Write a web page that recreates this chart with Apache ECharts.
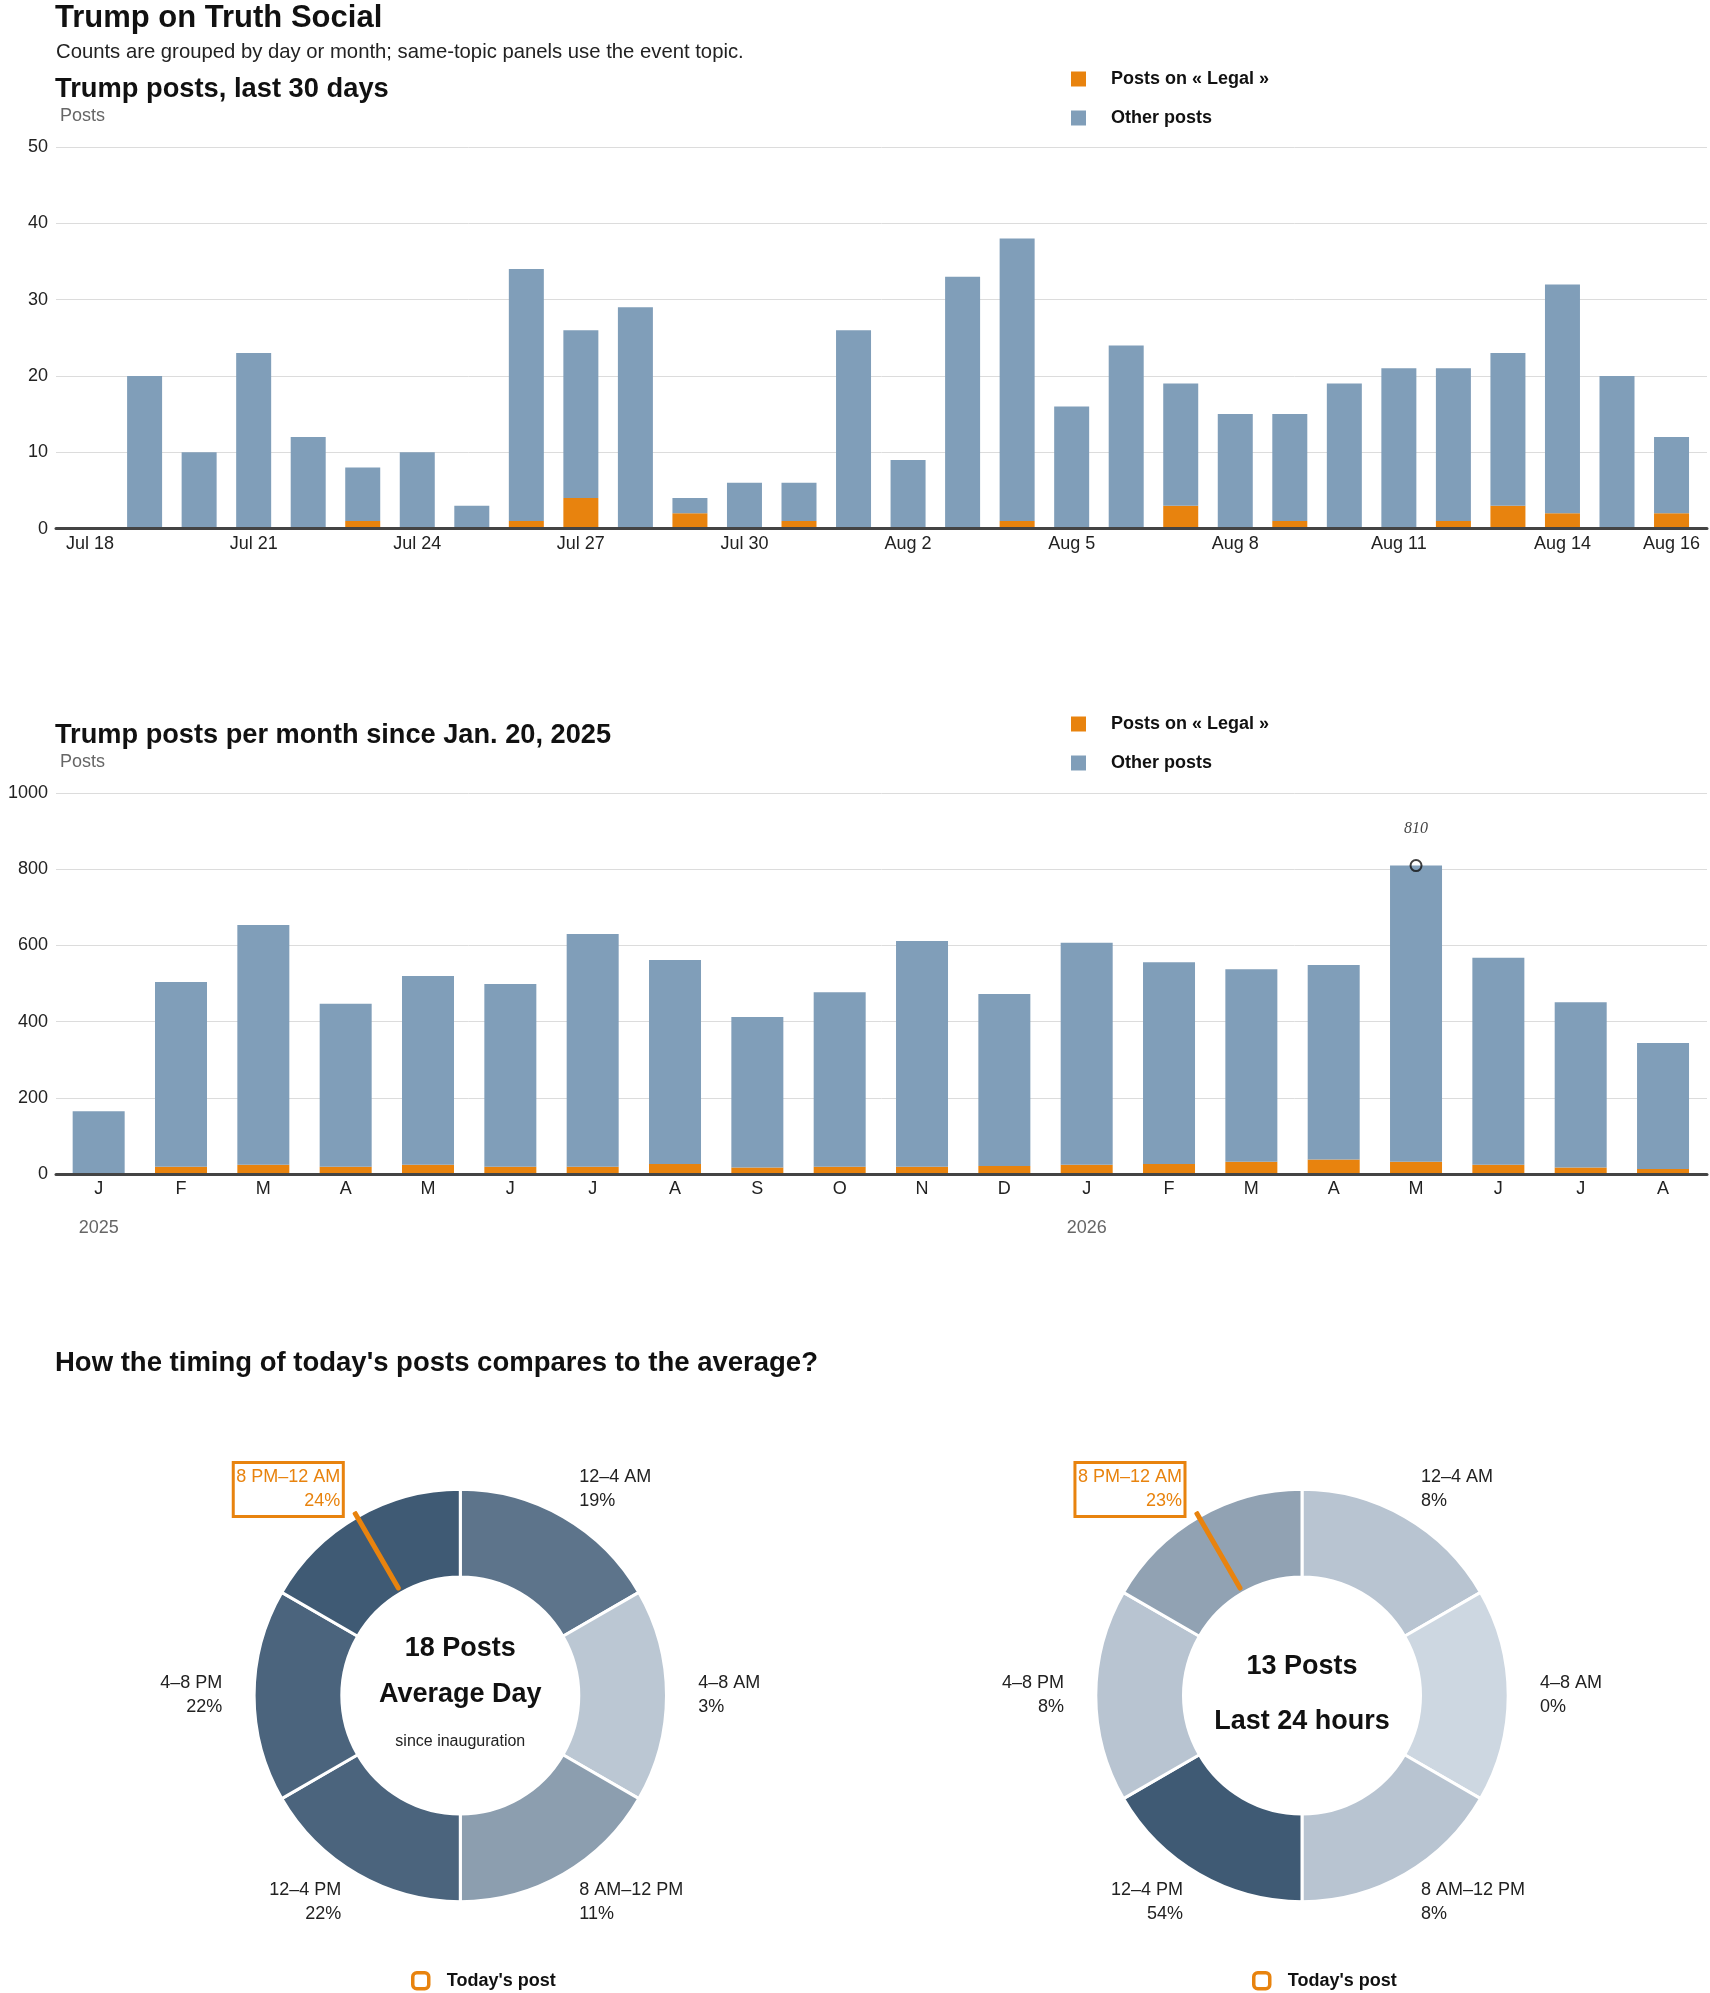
<!DOCTYPE html>
<html>
<head>
<meta charset="utf-8">
<script src="https://cdn.jsdelivr.net/npm/echarts@6/dist/echarts.min.js"></script>
<style>html,body{margin:0;padding:0;background:#fff}#c{width:1710px;height:1993px}</style>
</head>
<body>
<div id="c"></div>
<script>
// ---------- DATA ----------
const dayLabels = ['Jul 18','Jul 19','Jul 20','Jul 21','Jul 22','Jul 23','Jul 24','Jul 25','Jul 26','Jul 27','Jul 28','Jul 29','Jul 30','Jul 31',
  'Aug 1','Aug 2','Aug 3','Aug 4','Aug 5','Aug 6','Aug 7','Aug 8','Aug 9','Aug 10','Aug 11','Aug 12','Aug 13','Aug 14','Aug 15','Aug 16'];
const dayTicks = ['Jul 18','Jul 21','Jul 24','Jul 27','Jul 30','Aug 2','Aug 5','Aug 8','Aug 11','Aug 14','Aug 16'];
const dayTotals = [0,20,10,23,12,8,10,3,34,26,29,4,6,6,26,9,33,38,16,24,19,15,15,19,21,21,23,32,20,12];
const dayLegal  = [0,0,0,0,0,1,0,0,1,4,0,2,0,1,0,0,0,1,0,0,3,0,1,0,0,1,3,2,0,2];

const months = ['2025-01','2025-02','2025-03','2025-04','2025-05','2025-06','2025-07','2025-08','2025-09','2025-10','2025-11','2025-12',
  '2026-01','2026-02','2026-03','2026-04','2026-05','2026-06','2026-07','2026-08'];
const monthLabels = ['J','F','M','A','M','J','J','A','S','O','N','D','J','F','M','A','M','J','J','A'];
const monthTotals = [165,504,654,447,520,499,630,562,412,477,612,473,607,556,538,549,810,568,451,344];
const monthLegal  = [0,19,24,19,24,19,19,26,17,19,19,21,24,26,32,38,32,24,17,13];

const slots = ['12–4 AM','4–8 AM','8 AM–12 PM','12–4 PM','4–8 PM','8 PM–12 AM'];
const avgShare = [19,3,11,22,22,24];
const todayShare = [8,0,8,54,8,23];
const avgPosts = 18;
const todayPosts = 13;
const todayPostHour = 22;

// ---------- STYLE ----------
const FONT = '"Liberation Sans", Arial, sans-serif';
const ORANGE = '#e8830e', BLUE = '#809eb9', AXIS = '#444', GRIDC = '#dcdcdc';
const LIGHT = '#cdd7e1', DARK = '#3f5a74';
const R0 = 118.5, R1 = 206.2, LABEL_R = 238;
const C1 = [460.3, 1695.5], C2 = [1302, 1695.5];
const DY = 2.5; // optical offset for middle-aligned text

function hex(c){ return [1,3,5].map(i => parseInt(c.substr(i,2),16)); }
function mix(a,b,t){ const pa=hex(a), pb=hex(b); return 'rgb(' + pa.map((v,i)=>Math.round(v+(pb[i]-v)*t)).join(',') + ')'; }
function txt(text, x, y, size, weight, color, align){
  return {type:'text', x:x, y:y + DY, silent:true, z:10,
    style:{text:text, fontSize:size, fontWeight:weight, fontFamily:FONT, fill:color, align:align||'left', verticalAlign:'middle'}};
}
const hiSlot = Math.floor(todayPostHour / 4);
const needleAngle = todayPostHour / 24 * 360;

function donut(name, center, shares){
  const max = Math.max.apply(null, shares);
  return {
    type:'pie', name:name, center:center, radius:[R0, R1], startAngle:90, clockwise:true,
    avoidLabelOverlap:false, silent:true, emphasis:{disabled:true}, animation:false,
    itemStyle:{borderColor:'#fff', borderWidth:3},
    label:{show:true, position:'outside', distanceToLabelLine:0, fontFamily:FONT, fontSize:18, color:'#222', lineHeight:24,
      formatter: p => p.name + '\n' + p.data.pct + '%'},
    labelLine:{show:false, length:LABEL_R - R1, length2:0},
    data: slots.map((s,i) => {
      const d = {name:s, value:1, pct:shares[i], itemStyle:{color: mix(LIGHT, DARK, shares[i]/max)}};
      if (i === hiSlot) d.label = {color:ORANGE, borderColor:ORANGE, borderWidth:3, padding:[3,3], offset:[2,0]};
      return d;
    })
  };
}
function needle(polarIndex){
  return {type:'line', name:"Today's post", coordinateSystem:'polar', polarIndex:polarIndex,
    data:[[R0 + 5.5, needleAngle],[R1 + 4, needleAngle]], symbol:'none', silent:true, clip:false, z:6,
    lineStyle:{color:ORANGE, width:5, cap:'round'}, itemStyle:{color:ORANGE}};
}
const peakIdx = monthTotals.indexOf(Math.max.apply(null, monthTotals));

const frameX = gi => ({gridIndex:gi, type:'value', min:0, max:1, z:5,
  axisLine:{show:true, lineStyle:{color:AXIS, width:3}}, axisTick:{show:false}, axisLabel:{show:false}, splitLine:{show:false}});
const frameY = (gi, max, interval) => ({gridIndex:gi, type:'value', min:0, max:max, interval:interval,
  name:'Posts', nameLocation:'end', nameGap:22,
  nameTextStyle:{color:'#666', fontSize:18, fontFamily:FONT, align:'left', padding:[0,0,0,4]},
  axisLine:{show:false}, axisTick:{show:false},
  axisLabel:{fontSize:18, color:'#222', fontFamily:FONT, margin:8, formatter:v => String(v)},
  splitLine:{lineStyle:{color:GRIDC, width:1}}});
const hiddenY = (gi, max) => ({gridIndex:gi, type:'value', min:0, max:max, show:false});

const legendText = {fontSize:18, fontWeight:'bold', color:'#111', fontFamily:FONT, lineHeight:15, padding:[0,0,6,20]};
const barLegend = top => ({data:['Posts on « Legal »','Other posts'], left:1071, top:top, orient:'vertical', padding:0,
  itemWidth:15, itemHeight:15, itemGap:18, icon:'rect', selectedMode:false, textStyle:legendText});
const todayLegend = left => ({data:[{name:"Today's post", icon:'roundRect', itemStyle:{color:'#fff', borderColor:ORANGE, borderWidth:3.5}}],
  left:left, top:1971, padding:0, itemWidth:16, itemHeight:16, selectedMode:false,
  textStyle:{fontSize:18, fontWeight:'bold', color:'#111', fontFamily:FONT, lineHeight:16, padding:[0,0,2,13]}});

const option = {
  animation:false,
  backgroundColor:'#fff',
  textStyle:{fontFamily:FONT},
  grid:[
    {left:56, right:3, top:147, height:381.6},
    {left:62.8, right:11.2, top:147, height:381.6},
    {left:56, right:3, top:793.2, height:380.8},
    {left:57.5, right:5.8, top:793.2, height:380.8}
  ],
  xAxis:[
    frameX(0),
    {gridIndex:1, type:'category', data:dayLabels, axisLine:{show:false}, axisTick:{show:false},
      axisLabel:{interval:(i, v) => dayTicks.indexOf(v) >= 0, fontSize:18, color:'#222', fontFamily:FONT, margin:5, lineHeight:20}},
    frameX(2),
    {gridIndex:3, type:'category', data:months, axisLine:{show:false}, axisTick:{show:false},
      axisLabel:{interval:0, margin:5, fontSize:18, color:'#222', fontFamily:FONT,
        formatter:(v, i) => '{m|' + monthLabels[i] + '}' + (v.slice(5) === '01' ? '\n{y|' + v.slice(0,4) + '}' : ''),
        rich:{m:{fontSize:18, color:'#222', fontFamily:FONT, lineHeight:20}, y:{fontSize:18, color:'#666', fontFamily:FONT, lineHeight:58}}}}
  ],
  yAxis:[ frameY(0, 50, 10), hiddenY(1, 50), frameY(2, 1000, 200), hiddenY(3, 1000) ],
  polar:[ {center:C1, radius:R1 + 6}, {center:C2, radius:R1 + 6} ],
  angleAxis:[
    {polarIndex:0, type:'value', min:0, max:360, startAngle:90, clockwise:true, show:false},
    {polarIndex:1, type:'value', min:0, max:360, startAngle:90, clockwise:true, show:false}
  ],
  radiusAxis:[
    {polarIndex:0, type:'value', min:0, max:R1 + 6, show:false},
    {polarIndex:1, type:'value', min:0, max:R1 + 6, show:false}
  ],
  legend:[ barLegend(68.5), barLegend(713.5), todayLegend(411), todayLegend(1252) ],
  series:[
    {type:'bar', name:'Posts on « Legal »', xAxisIndex:1, yAxisIndex:1, stack:'day', barWidth:35, data:dayLegal,
      itemStyle:{color:ORANGE}, silent:true},
    {type:'bar', name:'Other posts', xAxisIndex:1, yAxisIndex:1, stack:'day', barWidth:35,
      data:dayTotals.map((t,i) => t - dayLegal[i]), itemStyle:{color:BLUE}, silent:true},
    {type:'bar', name:'Posts on « Legal »', xAxisIndex:3, yAxisIndex:3, stack:'month', barWidth:52, data:monthLegal,
      itemStyle:{color:ORANGE}, silent:true},
    {type:'bar', name:'Other posts', xAxisIndex:3, yAxisIndex:3, stack:'month', barWidth:52,
      data:monthTotals.map((t,i) => t - monthLegal[i]), itemStyle:{color:BLUE}, silent:true},
    {type:'scatter', name:'Peak', xAxisIndex:3, yAxisIndex:3, symbol:'circle', symbolSize:11, z:8, silent:true,
      data:monthTotals.map((t,i) => i === peakIdx ? t : '-'),
      itemStyle:{color:'rgba(0,0,0,0)', borderColor:'#111', borderWidth:2},
      label:{show:true, position:'top', distance:22, formatter:p => String(p.value),
        fontFamily:'"Liberation Serif", serif', fontStyle:'italic', fontSize:16, color:'#111'}},
    donut('Average day', C1, avgShare),
    donut('Last 24 hours', C2, todayShare),
    needle(0),
    needle(1)
  ],
  graphic:[
    txt('Trump on Truth Social', 55, 16, 31, 'bold', '#111'),
    txt('Counts are grouped by day or month; same-topic panels use the event topic.', 56, 50, 20.3, 'normal', '#222'),
    txt('Trump posts, last 30 days', 55, 87, 27.3, 'bold', '#111'),
    txt('Trump posts per month since Jan. 20, 2025', 55, 733.5, 27.2, 'bold', '#111'),
    txt("How the timing of today's posts compares to the average?", 55, 1361, 27.5, 'bold', '#111'),
    txt(avgPosts + ' Posts', C1[0], 1646, 27, 'bold', '#111', 'center'),
    txt('Average Day', C1[0], 1692, 27, 'bold', '#111', 'center'),
    txt('since inauguration', C1[0], 1739, 16, 'normal', '#222', 'center'),
    txt(todayPosts + ' Posts', C2[0], 1664.5, 27, 'bold', '#111', 'center'),
    txt('Last 24 hours', C2[0], 1719, 27, 'bold', '#111', 'center')
  ]
};
const chart = echarts.init(document.getElementById('c'), null, {renderer:'canvas', width:1710, height:1993});
chart.setOption(option);
</script>
</body>
</html>
